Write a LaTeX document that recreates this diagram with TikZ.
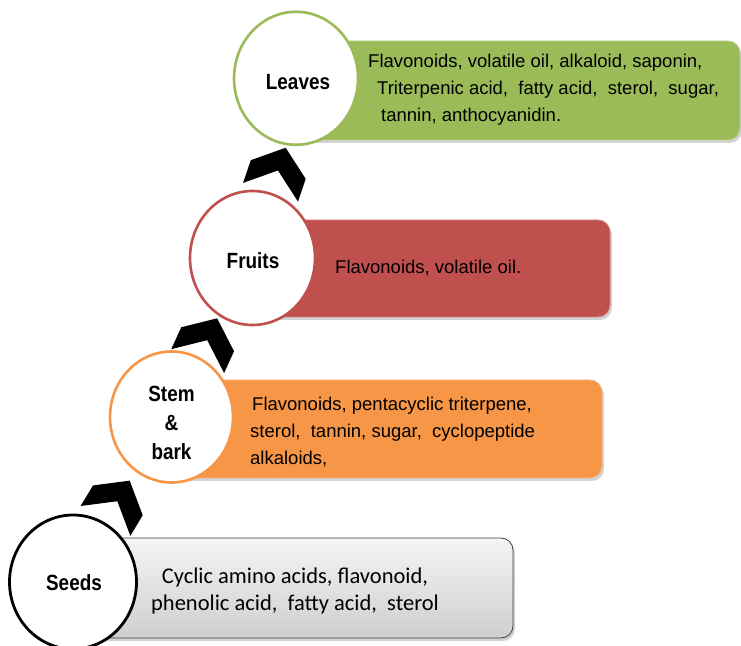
\documentclass[tikz,border=0pt]{standalone}
\usepackage{fontspec}
\setmainfont{Liberation Sans}
\newfontfamily\calibrifont{Carlito}
\newfontfamily\labelfont{Liberation Sans}[FakeStretch=0.86]
\usetikzlibrary{shapes.geometric,shadows}

\definecolor{leafgreen}{HTML}{9BBB59}
\definecolor{fruitred}{HTML}{C0504D}
\definecolor{stemorange}{HTML}{F79646}

\tikzset{
  part/.style={ellipse, draw, line width=2.6pt, fill=white, inner sep=0pt},
  partlabel/.style={font=\labelfont\bfseries\fontsize{22}{29}\selectfont, align=center, inner sep=0pt},
  infobox/.style={rectangle, rounded corners=12pt, line width=0.8pt,
    drop shadow={shadow xshift=2pt, shadow yshift=-3pt, opacity=0.35}},
  info/.style={font=\fontsize{18.5}{27}\selectfont, align=left, anchor=west, inner sep=0pt},
  chevron/.pic={\fill[black] (0,23.5) -- (-29,0.5) -- (-29,-23.5) -- (0,-0.5)
    -- (29,-23.5) -- (29,0.5) -- cycle;}
}

\begin{document}
\begin{tikzpicture}[x=1pt, y=1pt]
  \useasboundingbox (0,0) rectangle (741,645);

  % boxes behind the circles
  \node (seedsbox) [infobox, draw=black!75, top color=gray!8, bottom color=gray!38,
    minimum width=440pt, minimum height=100pt] at (293,57) {};
  \node (stembox) [infobox, draw=stemorange!70!white, fill=stemorange,
    minimum width=431pt, minimum height=98pt] at (386.5,216) {};
  \node (fruitsbox) [infobox, draw=fruitred!70!white, fill=fruitred,
    minimum width=358pt, minimum height=97pt] at (431,376.5) {};
  \node (leavesbox) [infobox, draw=leafgreen!70!white, fill=leafgreen,
    minimum width=444pt, minimum height=99pt] at (518,554.5) {};

  % chevrons
  \pic[rotate=-31] at (117.6,144.2) {chevron};
  \pic[rotate=-24.4] at (207.4,305.3) {chevron};
  \pic[rotate=-18.8] at (278.1,475) {chevron};

  % circles
  \node (seeds) [part, draw=black, line width=2.8pt, minimum width=127pt, minimum height=134pt] at (73,63) {};
  \node (stem) [part, draw=stemorange, minimum width=123pt, minimum height=131pt] at (171.5,228) {};
  \node (fruits) [part, draw=fruitred, minimum width=125pt, minimum height=134pt] at (252.5,387) {};
  \node (leaves) [part, draw=leafgreen, minimum width=124pt, minimum height=133pt] at (296,566.7) {};

  \node (seedslabel) [partlabel] at (74,62) {Seeds};
  \node (stemlabel) [partlabel] at (171.5,222) {Stem\\\&\\bark};
  \node (fruitslabel) [partlabel] at (253,384) {Fruits};
  \node (leaveslabel) [partlabel] at (298,563) {Leaves};

  % texts
  \node (seedstext) [font=\calibrifont\fontsize{22.5}{27}\selectfont, align=center]
    at (295,54) {Cyclic amino acids, flavonoid,\\phenolic acid,\ \ fatty acid,\ \ sterol};
  \node (stemtext) [info] at (250,213)
    {\hspace*{2pt}Flavonoids, pentacyclic triterpene,\\sterol,\ \ tannin, sugar,\ \ cyclopeptide\\alkaloids,};
  \node (fruitstext) [info] at (335,377) {Flavonoids, volatile oil.};
  \node (leavestext) [info] at (368,555)
    {Flavonoids, volatile oil, alkaloid, saponin,\\\hspace*{9pt}Triterpenic acid,\ \ fatty acid,\ \ sterol,\ \ sugar,\\\hspace*{13pt}tannin, anthocyanidin.};
\end{tikzpicture}
\end{document}
